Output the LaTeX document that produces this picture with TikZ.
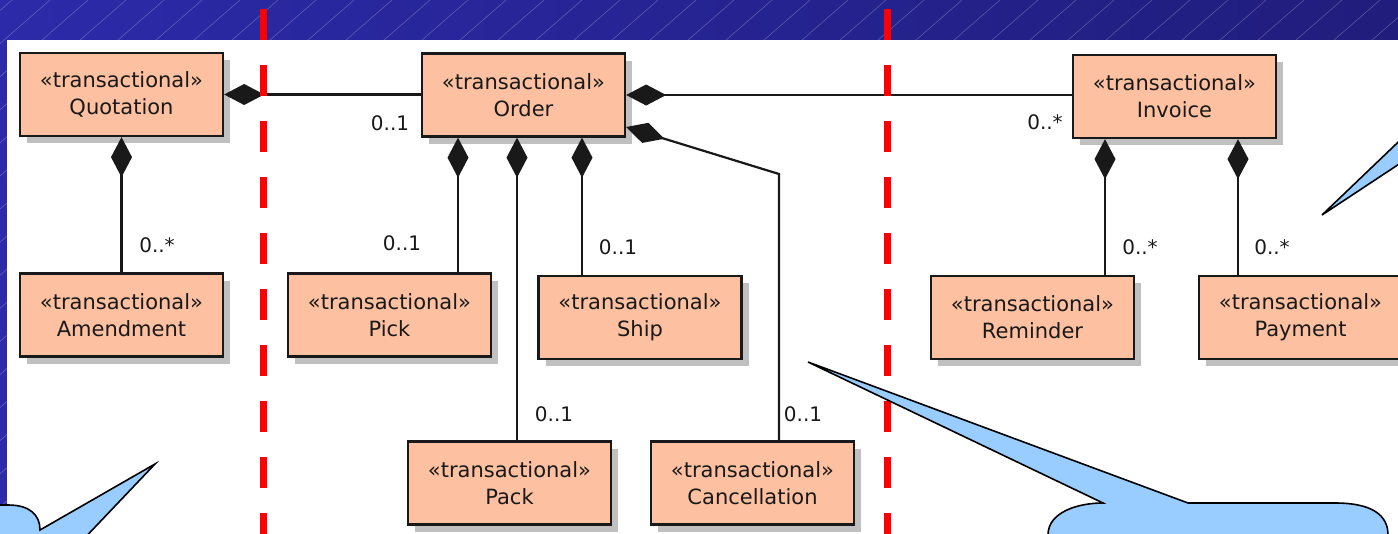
\documentclass[tikz,border=0pt]{standalone}
\usepackage{fontspec}
\setmainfont{DejaVu Sans}
\usetikzlibrary{arrows.meta,shadows}
\definecolor{bgleft}{RGB}{44,42,168}
\definecolor{bgright}{RGB}{32,29,124}
\definecolor{boxfill}{RGB}{253,192,160}
\definecolor{shade}{RGB}{192,192,192}
\definecolor{calloutfill}{RGB}{153,204,255}
\definecolor{ink}{RGB}{25,25,25}
\definecolor{guide}{RGB}{255,0,0}

\begin{document}
\begin{tikzpicture}[x=1pt,y=-1pt,
  cls/.style={draw=ink, line width=2.3pt, fill=boxfill, minimum width=203pt,
    minimum height=83pt, inner sep=0pt, align=center, text=ink,
    font=\fontsize{21}{27}\selectfont,
    drop shadow={shadow xshift=7pt, shadow yshift=-7pt, fill=shade, opacity=1}},
  comp/.style={draw=ink, line width=2.2pt, arrows={Diamond[length=40pt,width=21pt]-}},
  mult/.style={text=ink, font=\fontsize{20}{20}\selectfont, inner sep=0pt},
  callout/.style={draw=black, line width=1.6pt, fill=calloutfill, line join=miter},
  guideline/.style={draw=guide, line width=7pt, dash pattern=on 31pt off 25pt},
]
\useasboundingbox (0,0) rectangle (1398,533);
\clip (0,0) rectangle (1398,533);

% slide background with faint diagonal hatching
\shade[left color=bgleft, right color=bgright] (0,0) rectangle (1398,533);
\foreach \k in {-20,...,40}
  \draw[white, opacity=0.25, line width=0.6pt] (\k*38, 540) -- (\k*38+620, 0);
\fill[white] (7,40) rectangle (1405,540);

% classes
\node[cls] (quo) at (121.5,94.5) {«transactional»\\Quotation};
\node[cls] (ord) at (523.5,95) {«transactional»\\Order};
\node[cls] (inv) at (1174.5,96.5) {«transactional»\\Invoice};
\node[cls] (amd) at (121.5,315) {«transactional»\\Amendment};
\node[cls] (pick) at (389.5,315) {«transactional»\\Pick};
\node[cls] (ship) at (640,317.5) {«transactional»\\Ship};
\node[cls] (rem) at (1032.5,317.5) {«transactional»\\Reminder};
\node[cls] (pay) at (1300.5,317.5) {«transactional»\\Payment};
\node[cls] (pack) at (509.5,483) {«transactional»\\Pack};
\node[cls] (can) at (752.5,483) {«transactional»\\Cancellation};

% composition links
\draw[comp] (quo.east) -- (quo.east -| ord.west);
\draw[comp] (quo.south) -- (amd.north);
\draw[comp] (ord.east) -- (ord.east -| inv.west);
\draw[comp] ([xshift=-65.5pt]ord.south) -- ([xshift=-65.5pt]ord.south |- pick.north);
\draw[comp] ([xshift=-6.5pt]ord.south) -- ([xshift=-6.5pt]ord.south |- pack.north);
\draw[comp] ([xshift=58.5pt]ord.south) -- ([xshift=58.5pt]ord.south |- ship.north);
\coordinate (bend) at (779,174);
\draw[comp] ([yshift=-32pt]ord.east) -- (bend) -- (bend |- can.north);
\draw[comp] ([xshift=-69.5pt]inv.south) -- ([xshift=-69.5pt]inv.south |- rem.north);
\draw[comp] ([xshift=63.5pt]inv.south) -- ([xshift=63.5pt]inv.south |- pay.north);

% multiplicities
\node[mult] (m1) at (390,123) {0..1};
\node[mult] (m2) at (157,245) {0..*};
\node[mult] (m3) at (402,243) {0..1};
\node[mult] (m4) at (618,247) {0..1};
\node[mult] (m5) at (554,414) {0..1};
\node[mult] (m6) at (803,414) {0..1};
\node[mult] (m7) at (1045,122) {0..*};
\node[mult] (m8) at (1140,247) {0..*};
\node[mult] (m9) at (1272,247) {0..*};

% partition guides
\draw[guideline] (263,9) -- (263,545);
\draw[guideline] (887,9) -- (887,545);

% speech bubbles
\draw[callout] (-60,600) -- (-60,505) -- (8,505)
  .. controls (30,505) and (40,515) .. (40,530)
  -- (155,464) -- (78,545) -- (78,600) -- cycle;
\draw[callout] (1048,600) -- (1048,535)
  .. controls (1048,512) and (1078,503) .. (1103,503)
  -- (808,362) -- (1188,503) -- (1335,503)
  .. controls (1372,503) and (1388,515) .. (1388,535)
  -- (1388,600) -- cycle;
\draw[callout] (1322,215) -- (1440,102) -- (1440,137) -- cycle;
\end{tikzpicture}
\end{document}
